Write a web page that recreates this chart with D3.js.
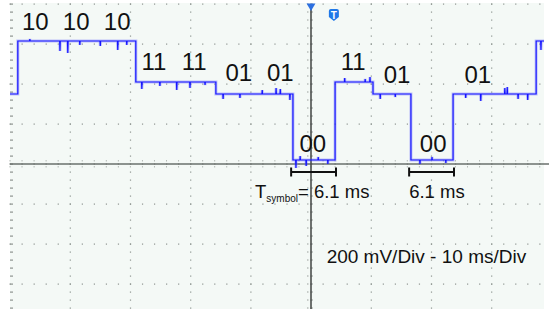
<!DOCTYPE html>
<html>
<head>
<meta charset="utf-8">
<script src="https://cdn.jsdelivr.net/npm/d3@7"></script>
<style>
  body { margin: 0; background: #fff; }
  svg { display: block; font-family: "Liberation Sans", Arial, sans-serif; }
</style>
</head>
<body>
<script>
// scope settings: 10 ms/div, 200 mV/div, centre = 0
var width = 549, height = 309;

// trace: segment edges (ms) and the symbol level held in each segment
var edgeTimes = [-50, -48.7, -29.1, -15.8, -3.0, 4.0, 10.3, 16.6, 23.6, 37.4, 50];
var segSymbols = ["01", "10", "11", "01", "00", "11", "01", "00", "01", "10"];
var symbolLevels = { "10": 615, "11": 410, "01": 350, "00": 20 };

// noise spikes: time (ms), offset (mV)
var glitchTimes = [-46.7, -41.7, -40.4, -38.4, -35.0, -32.1, -30.6, -28.1, -25.1, -22.3, -20.1, -17.6,
  -14.6, -11.8, -8.1, -5.8, -5.1, -3.5, -2.5, -1.8, -0.8, 1.2, 2.8, 5.6, 9.0, 9.8, 11.5, 14.0,
  18.1, 20.1, 22.4, 25.7, 28.2, 32.2, 32.6, 34.4, 36.0, 38.2, 39.0];
var glitchOffsets = [10, -50, -60, -20, -25, -45, -20, -35, -20, -40, -30, -15,
  -25, -20, 20, 30, 25, -30, -40, 20, -30, 15, -20, 20, 15, 25, -25, -15,
  -20, 15, -15, -20, -35, 30, 35, -25, -30, -45, -20];

// symbol annotations
var labelTexts = ["10", "10", "10", "11", "11", "01", "01", "00", "11", "01", "00", "01"];
var labelTimes = [-45.8, -39.0, -32.2, -26.1, -19.4, -12.0, -5.1, 0.3, 7.0, 14.3, 20.3, 27.7];
var labelLevels = [670, 670, 670, 470, 470, 415, 415, 60, 470, 405, 60, 405];

// symbol period brackets
var bracketStarts = [-3.3, 16.3];
var bracketEnds = [4.15, 23.75];
var bracketLevel = -40;

var svg = d3.select('body').append('svg').attr('width', width).attr('height', height);

var x = d3.scaleLinear().domain([-50, 50]).range([10, 612]);
var y = d3.scaleLinear().domain([-800, 800]).range([324, 4]);

svg.append('rect').attr('x', 10).attr('y', 3).attr('width', 534).attr('height', height - 3).attr('fill', '#f4f9f6');

// graticule
var grid = svg.append('g');
var majorT = d3.range(-50, 51, 10), majorV = d3.range(-800, 801, 200);
var minorT = d3.range(-50, 51, 2), minorV = d3.range(-800, 801, 40);

majorT.forEach(function (t) {
  grid.selectAll(null).data(minorV).enter().append('rect')
    .attr('x', x(t) - (t == -50 ? 0 : 0.5)).attr('y', d => y(d) - 0.5)
    .attr('width', t == -50 ? 3 : 1.2).attr('height', 1.2)
    .attr('fill', '#8d9490');
});
majorV.forEach(function (v) {
  grid.selectAll(null).data(minorT).enter().append('rect')
    .attr('x', d => x(d) - 0.5).attr('y', y(v) - 0.5)
    .attr('width', 1.2).attr('height', 1.2)
    .attr('fill', '#8d9490');
});

// centre axes with ticks
grid.selectAll(null).data(minorT).enter().append('line')
  .attr('x1', d => x(d)).attr('x2', d => x(d))
  .attr('y1', y(0) - 4).attr('y2', y(0) + 4)
  .attr('stroke', '#b4bab6').attr('stroke-width', 1).attr('stroke-dasharray', '1.5,1.5');
grid.selectAll(null).data(minorV).enter().append('line')
  .attr('y1', d => y(d)).attr('y2', d => y(d))
  .attr('x1', x(0) - 4).attr('x2', x(0) + 4)
  .attr('stroke', '#9aa09c').attr('stroke-width', 1).attr('stroke-dasharray', '1.5,3');
grid.append('line').attr('x1', 10).attr('x2', width).attr('y1', y(0)).attr('y2', y(0))
  .attr('stroke', '#6a706d').attr('stroke-width', 1.5);
grid.append('line').attr('x1', x(0)).attr('x2', x(0)).attr('y1', 4).attr('y2', height)
  .attr('stroke', '#4b4f4d').attr('stroke-width', 1.6);

// build the trace points
var pts = [];
segSymbols.forEach(function (s, i) {
  var t0 = edgeTimes[i], t1 = edgeTimes[i + 1], L = symbolLevels[s];
  pts.push([t0, L]);
  glitchTimes.forEach(function (g, j) {
    if (g > t0 + 0.2 && g < t1 - 0.2) {
      pts.push([g - 0.05, L], [g, L + glitchOffsets[j]], [g + 0.05, L]);
    }
  });
  pts.push([t1, L]);
});

var line = d3.line().x(d => x(d[0])).y(d => y(d[1]));
var clip = svg.append('clipPath').attr('id', 'plotclip').append('rect')
  .attr('x', 10).attr('y', 3).attr('width', 534).attr('height', height);
var trace = svg.append('g').attr('clip-path', 'url(#plotclip)');
trace.append('path').datum(pts).attr('d', line).attr('fill', 'none')
  .attr('stroke', '#5a5aff').attr('stroke-opacity', 0.35).attr('stroke-width', 3);
trace.append('path').datum(pts).attr('d', line).attr('fill', 'none')
  .attr('stroke', '#1414ff').attr('stroke-width', 1.2);

// symbol labels
svg.selectAll('text.sym').data(labelTexts).enter().append('text').attr('class', 'sym')
  .attr('x', (d, i) => x(labelTimes[i])).attr('y', (d, i) => y(labelLevels[i]))
  .attr('text-anchor', 'middle').attr('font-size', 24).attr('fill', '#111')
  .text(d => d);

// brackets
var br = svg.selectAll('g.br').data(bracketStarts).enter().append('g').attr('class', 'br');
br.append('line').attr('x1', d => x(d)).attr('x2', (d, i) => x(bracketEnds[i]))
  .attr('y1', y(bracketLevel)).attr('y2', y(bracketLevel));
br.append('line').attr('x1', d => x(d)).attr('x2', d => x(d))
  .attr('y1', y(bracketLevel) - 4.5).attr('y2', y(bracketLevel) + 4.5);
br.append('line').attr('x1', (d, i) => x(bracketEnds[i])).attr('x2', (d, i) => x(bracketEnds[i]))
  .attr('y1', y(bracketLevel) - 4.5).attr('y2', y(bracketLevel) + 4.5);
br.selectAll('line').attr('stroke', '#111').attr('stroke-width', 2);

var tl = svg.append('text').attr('x', x(-9.3)).attr('y', y(-170)).attr('font-size', 18.5).attr('fill', '#111');
tl.append('tspan').text('T');
tl.append('tspan').attr('font-size', 10).attr('dy', 4).text('symbol');
tl.append('tspan').attr('dy', -4).text('= 6.1 ms');

svg.append('text').attr('x', x(16.3)).attr('y', y(-170)).attr('font-size', 18.5).attr('fill', '#111')
  .text('6.1 ms');

svg.append('text').attr('x', x(2.6)).attr('y', y(-495)).attr('font-size', 19).attr('fill', '#111')
  .text('200 mV/Div - 10 ms/Div');

// trigger marker and badge
svg.append('path').attr('d', d3.symbol(d3.symbolTriangle, 34)())
  .attr('transform', 'translate(' + x(0) + ',6) rotate(180)').attr('fill', '#2c6fe0');
var bx = x(3.8);
svg.append('path')
  .attr('d', 'M' + (bx - 5) + ',11 q0,-2 2,-2 h6 q2,0 2,2 v6 l-5,4 l-5,-4 z')
  .attr('fill', '#1f78e8');
svg.append('text').attr('x', bx).attr('y', 18.5).attr('text-anchor', 'middle')
  .attr('font-size', 10).attr('font-weight', 'bold').attr('fill', '#fff').text('T');
</script>
</body>
</html>
